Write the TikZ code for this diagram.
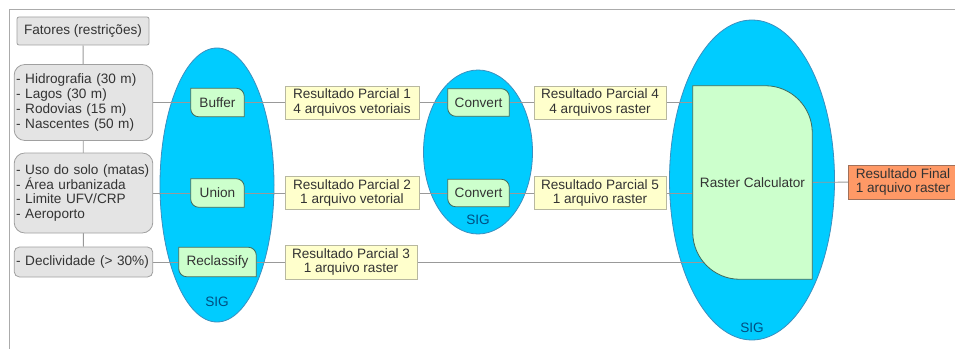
\documentclass[tikz,border=0pt]{standalone}
\usepackage{fontspec}
\setmainfont{Liberation Sans}
\usetikzlibrary{shapes.geometric,calc}

\definecolor{framegray}{HTML}{ABABAB}
\definecolor{wiregray}{HTML}{999999}
\definecolor{factfill}{HTML}{E4E4E4}
\definecolor{factline}{HTML}{A0A0A0}
\definecolor{resfill}{HTML}{FFFFCC}
\definecolor{resline}{HTML}{B8B8A0}
\definecolor{procfill}{HTML}{CCFFCC}
\definecolor{procline}{HTML}{3E6B5E}
\definecolor{sigfill}{HTML}{00CCFF}
\definecolor{sigline}{HTML}{3A8FBF}
\definecolor{sigtext}{HTML}{004D80}
\definecolor{finalfill}{HTML}{FF9966}
\definecolor{finalline}{HTML}{A0705A}
\definecolor{txt}{HTML}{333333}

\pgfdeclarelayer{ell}
\pgfdeclarelayer{wires}
\pgfdeclarelayer{shapes}
\pgfsetlayers{ell,wires,shapes,main}

% box with rounded top right and bottom left corners
\newcommand{\procshape}[2]{%
  \draw[procbox] (#1.north west) -- ($(#1.north east)+(-#2,0)$)
    arc[start angle=90,end angle=0,radius=#2] -- (#1.south east)
    -- ($(#1.south west)+(#2,0)$)
    arc[start angle=270,end angle=180,radius=#2] -- cycle;}

\begin{document}
\begin{tikzpicture}
        [x=0.75pt,y=0.75pt,
        every node/.style={font=\fontsize{10.2}{11.2}\selectfont,text=txt,inner sep=0pt},
        factor/.style={draw=factline,fill=factfill,line width=0.6pt,rounded corners=#1,
          text width=101pt,inner xsep=1.5pt,align=left,minimum width=104pt},
        factor/.default=8pt,
        result/.style={draw=resline,fill=resfill,line width=0.6pt,align=center,
          minimum height=24.75pt},
        proc/.style={align=center},
        procbox/.style={draw=procline,fill=procfill,line width=0.6pt},
        sig/.style={ellipse,draw=sigline,fill=sigfill,line width=0.6pt},
        siglabel/.style={text=sigtext},
        wire/.style={draw=wiregray,line width=0.7pt}]
        \useasboundingbox (0,0) rectangle (955,-349);
        \draw[framegray,line width=0.7pt] (9,-349) -- (9,-9) -- (955,-9);

        % restricoes
        \node[draw=factline,fill=factfill,line width=0.6pt,rounded corners=1.5pt,
          minimum width=99pt,minimum height=21pt] (fatores) at (83,-31) {Fatores (restrições)};
        \node[factor,minimum height=57pt] (hidro) at (83.5,-102.5)
          {- Hidrografia (30 m)\\- Lagos (30 m)\\- Rodovias (15 m)\\- Nascentes (50 m)};
        \node[factor,minimum height=60pt] (uso) at (83.5,-193)
          {- Uso do solo (matas)\\- Área urbanizada\\- Limite UFV/CRP\\- Aeroporto};
        \node[factor=4pt,minimum height=22.5pt] (decl) at (83.5,-262) {- Declividade (> 30\%)};

        % SIG
        \begin{pgfonlayer}{ell}
          \node[sig,minimum width=85.5pt,minimum height=205.5pt] (sig1) at (217,-185) {};
          \node[sig,minimum width=81.75pt,minimum height=123pt] (sig2) at (478,-152) {};
          \node[sig,minimum width=123.75pt,minimum height=240pt] (sig3) at (752,-180) {};
        \end{pgfonlayer}
        \node[siglabel] (sig1lbl) at (217,-302) {SIG};
        \node[siglabel] (sig2lbl) at (478,-220) {SIG};
        \node[siglabel] (sig3lbl) at (752,-328) {SIG};

        % operacoes
        \node[proc,minimum width=39.75pt,minimum height=21pt] (buffer) at (217.5,-102.5) {Buffer};
        \node[proc,minimum width=39.75pt,minimum height=21pt] (union) at (217.5,-193) {Union};
        \node[proc,minimum width=57.75pt,minimum height=21.75pt] (reclass) at (217.5,-262) {Reclassify};
        \node[proc,minimum width=45.75pt,minimum height=20.25pt] (conv1) at (478.5,-102.5) {Convert};
        \node[proc,minimum width=45.75pt,minimum height=20.25pt] (conv2) at (478.5,-193) {Convert};
        \node[proc,minimum width=89.25pt,minimum height=144.75pt] (calc) at (752.5,-182.5) {Raster Calculator};
        \begin{pgfonlayer}{shapes}
          \procshape{buffer}{8}
          \procshape{union}{8}
          \procshape{reclass}{8}
          \procshape{conv1}{8}
          \procshape{conv2}{8}
          \procshape{calc}{47}
        \end{pgfonlayer}

        % resultados
        \node[result,minimum width=100.5pt] (rp1) at (352,-102.5) {Resultado Parcial 1\\4 arquivos vetoriais};
        \node[result,minimum width=100.5pt] (rp2) at (352,-193) {Resultado Parcial 2\\1 arquivo vetorial};
        \node[result,minimum width=99pt,minimum height=25.5pt] (rp3) at (351,-262) {Resultado Parcial 3\\1 arquivo raster};
        \node[result,minimum width=99pt] (rp4) at (600,-102.5) {Resultado Parcial 4\\4 arquivos raster};
        \node[result,minimum width=99pt] (rp5) at (600,-193) {Resultado Parcial 5\\1 arquivo raster};
        \node[result,draw=finalline,fill=finalfill,minimum width=81.75pt,minimum height=25.5pt]
          (final) at (903,-182) {Resultado Final\\1 arquivo raster};

        \begin{pgfonlayer}{wires}
          \draw[wire] (fatores) -- (decl);
          \draw[wire] (hidro) -- (buffer) -- (rp1) -- (conv1) -- (rp4) -- (rp4 -| calc);
          \draw[wire] (uso) -- (union) -- (rp2) -- (conv2) -- (rp5) -- (rp5 -| calc);
          \draw[wire] (decl) -- (reclass) -- (rp3) -- (rp3 -| calc);
          \draw[wire] (calc) -- (final);
        \end{pgfonlayer}
\end{tikzpicture}
\end{document}
